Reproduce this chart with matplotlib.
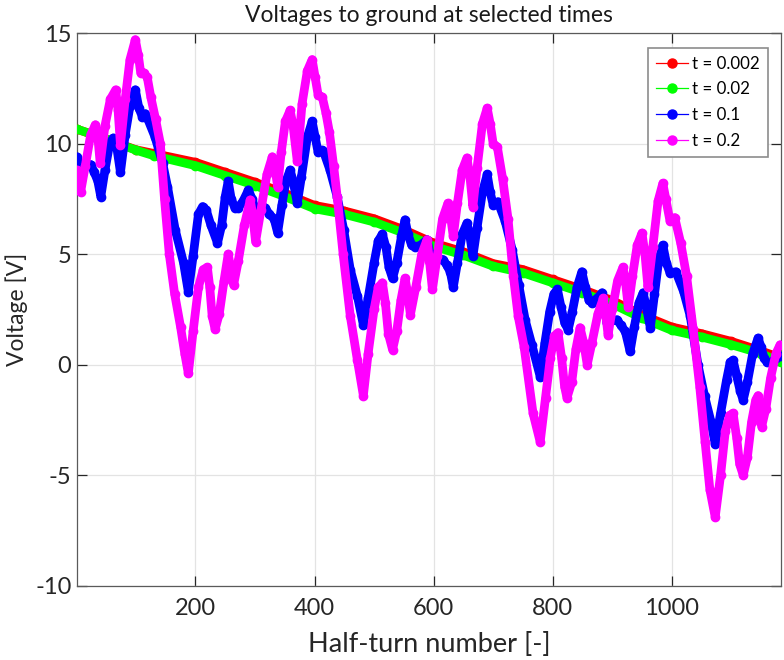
import numpy as np
import matplotlib
matplotlib.use("Agg")
import matplotlib.pyplot as plt
from matplotlib.lines import Line2D

plt.rcParams['font.family'] = ['Lato', 'DejaVu Sans']

# --- data (half-turn number, voltage) ---
lin_x = [1, 50, 100, 130, 200, 250, 300, 350, 400, 450, 500, 550, 600, 650,
         700, 750, 800, 850, 900, 950, 1000, 1050, 1100, 1150, 1183]
red_v = [10.65, 10.2, 9.72, 9.55, 9.15, 8.7, 8.25, 7.75, 7.2, 6.95, 6.6, 6.1,
         5.5, 5.1, 4.57, 4.3, 3.85, 3.4, 2.9, 2.25, 1.7, 1.4, 1.05, 0.62, 0.3]
green_v = [10.65, 10.2, 9.7, 9.45, 9.0, 8.55, 8.1, 7.6, 7.05, 6.8, 6.45, 5.95,
           5.35, 4.95, 4.45, 4.15, 3.7, 3.25, 2.75, 2.1, 1.55, 1.25, 0.9, 0.5, 0.1]

blue_x = [1, 7, 15, 24, 30, 36, 41, 48, 56, 62, 68, 74, 82, 90, 99, 105, 111,
          116, 120, 132, 145, 153, 166, 180, 188, 196, 205, 212, 218, 226, 237,
          244, 250, 255, 260, 266, 272, 280, 289, 295, 304, 310, 317, 324, 332,
          338, 345, 352, 359, 364, 371, 378, 388, 396, 401, 406, 412, 415, 426,
          438, 449, 460, 472, 482, 490, 500, 507, 514, 520, 525, 531, 538, 546,
          552, 557, 563, 569, 578, 589, 593, 598, 606, 616, 622, 628, 633, 640,
          648, 656, 661, 666, 673, 682, 690, 695, 700, 708, 720, 732, 743, 754,
          765, 779, 787, 795, 802, 808, 814, 820, 826, 833, 841, 849, 855, 861,
          866, 875, 883, 887, 891, 900, 908, 914, 922, 930, 937, 945, 952, 958,
          964, 971, 978, 985, 991, 997, 1007, 1020, 1031, 1044, 1055, 1066, 1073,
          1082, 1092, 1098, 1103, 1109, 1115, 1120, 1127, 1136, 1145, 1150, 1155,
          1160, 1167, 1175, 1182]
blue_v = [9.4, 8.8, 9.0, 9.05, 8.7, 8.3, 7.6, 8.8, 10.0, 10.25, 9.8, 8.7, 10.4,
          11.7, 12.43, 11.6, 11.2, 11.35, 11.1, 10.3, 9.1, 8.05, 6.1, 4.6, 3.3,
          4.9, 6.8, 7.15, 7.0, 6.3, 5.5, 6.3, 7.6, 8.3, 7.5, 7.1, 7.1, 7.4, 7.9,
          7.5, 6.7, 7.0, 7.1, 6.8, 6.6, 5.97, 7.2, 8.3, 8.8, 8.3, 7.3, 8.5, 10.3,
          11.0, 10.3, 9.6, 9.7, 9.65, 8.8, 7.6, 6.1, 4.3, 3.1, 1.8, 3.0, 4.6, 5.6,
          5.9, 5.3, 4.4, 3.9, 4.6, 5.8, 6.55, 5.9, 5.4, 5.33, 5.4, 5.65, 5.1, 4.6,
          4.8, 4.75, 4.5, 4.2, 3.5, 4.6, 5.9, 6.4, 5.8, 4.9, 6.2, 7.8, 8.6, 7.8,
          7.23, 7.37, 6.5, 5.2, 3.6, 2.0, 0.9, -0.54, 1.0, 2.4, 3.2, 3.4, 2.6,
          1.9, 1.58, 2.4, 3.5, 4.2, 3.5, 2.9, 2.8, 3.0, 3.25, 2.6, 1.9, 2.0, 2.03,
          1.8, 1.5, 0.6, 1.7, 2.8, 3.25, 2.5, 1.67, 3.2, 4.7, 5.4, 4.6, 4.15, 4.2,
          3.3, 2.2, 0.0, -1.4, -2.6, -3.6, -2.2, -0.7, 0.1, 0.2, -0.5, -1.2, -1.6,
          -0.8, 0.5, 1.2, 0.8, 0.3, 0.1, 0.1, 0.3, 0.4]

mag_x = [1, 7, 15, 24, 32, 36, 40, 48, 57, 66, 70, 74, 82, 90, 99, 104, 108,
         113, 119, 125, 133, 141, 148, 156, 165, 175, 182, 188, 196, 205, 213,
         220, 224, 228, 233, 240, 248, 255, 259, 264, 272, 282, 292, 296, 301,
         310, 320, 329, 333, 338, 344, 351, 359, 364, 371, 379, 388, 396, 401,
         406, 413, 419, 425, 432, 438, 448, 460, 472, 482, 490, 500, 507, 514,
         519, 524, 531, 538, 545, 552, 556, 561, 570, 580, 589, 593, 598, 606,
         615, 624, 628, 633, 640, 648, 656, 661, 666, 673, 682, 690, 695, 700,
         707, 716, 725, 734, 742, 752, 767, 779, 788, 796, 803, 809, 815, 820,
         824, 832, 839, 846, 852, 858, 866, 876, 885, 889, 893, 900, 909, 918,
         922, 927, 934, 942, 950, 955, 960, 968, 977, 985, 990, 997, 1005, 1015,
         1025, 1036, 1047, 1056, 1064, 1073, 1082, 1090, 1097, 1103, 1109, 1114,
         1120, 1127, 1134, 1141, 1145, 1148, 1151, 1158, 1166, 1175, 1182]
mag_v = [8.8, 7.8, 9.0, 10.4, 10.85, 10.3, 9.1, 10.8, 12.0, 12.43, 11.5, 9.95,
         12.0, 13.8, 14.7, 14.0, 13.2, 13.2, 13.0, 12.1, 11.1, 10.0, 7.5, 5.0,
         3.2, 1.7, 0.5, -0.4, 1.5, 3.5, 4.3, 4.4, 3.5, 2.2, 1.6, 2.3, 3.8, 5.0,
         4.4, 3.6, 4.7, 6.3, 7.45, 6.8, 5.56, 7.0, 8.6, 9.4, 9.0, 8.05, 9.6,
         11.0, 11.5, 10.8, 9.2, 11.8, 13.3, 13.8, 13.0, 12.2, 12.1, 11.4, 10.5,
         9.0, 7.6, 5.0, 2.2, 0.2, -1.4, 0.5, 2.5, 3.5, 3.7, 2.8, 1.4, 0.68, 1.5,
         2.9, 3.9, 3.3, 2.26, 3.5, 5.0, 5.65, 4.7, 3.4, 4.9, 6.6, 7.3, 6.8, 5.8,
         7.3, 8.8, 9.35, 8.5, 7.15, 8.9, 10.9, 11.6, 10.9, 10.0, 9.85, 8.4, 6.6,
         4.0, 2.2, 0.8, -2.2, -3.5, -1.5, 0.3, 1.3, 1.45, 0.3, -1.0, -1.5, -0.8,
         0.7, 1.67, 1.0, 0.0, 1.0, 2.3, 3.0, 2.3, 1.35, 2.5, 3.8, 4.4, 3.8, 2.6,
         4.0, 5.4, 5.95, 5.0, 3.5, 5.3, 7.4, 8.2, 7.5, 6.5, 6.65, 5.5, 4.0, 1.6,
         -1.0, -3.5, -5.65, -6.9, -5.0, -3.0, -2.3, -2.2, -3.3, -4.5, -5.0, -4.2,
         -2.6, -1.6, -1.4, -2.2, -2.8, -2.0, -0.6, 0.5, 0.9]

labels = ['t = 0.002', 't = 0.02', 't = 0.1', 't = 0.2']
colors = ['#ff0000', '#00ff00', '#0000ff', '#ff00ff']

fig = plt.figure(figsize=(7.84, 6.6), dpi=100)
ax = fig.add_axes([0.0982, 0.1126, 0.8976, 0.8374])

series = [(lin_x, red_v), (lin_x, green_v), (blue_x, blue_v), (mag_x, mag_v)]
for (xs, ys), c in zip(series, colors):
    # thick band of dots, like the dense marker line in the original
    ax.plot(xs, ys, '-', color=c, lw=6.3, solid_capstyle='round',
            solid_joinstyle='round', zorder=3)
    ax.plot(xs, ys, 'o', color=c, ms=6, zorder=3)

ax.set_xlim(1, 1183)
ax.set_ylim(-10, 15)
ax.set_xticks([200, 400, 600, 800, 1000])
ax.set_yticks([-10, -5, 0, 5, 10, 15])
ax.set_yticklabels(['-10', '-5', '0', '5', '10', '15'])
ax.grid(True, color='#e3e3e3', lw=0.9, zorder=0)
ax.tick_params(direction='in', length=7, width=0.9, colors='#262626',
               labelsize=17, top=True, right=True)
ax.tick_params(axis='y', pad=4)
ax.tick_params(axis='x', pad=9)
for s in ax.spines.values():
    s.set_color('#5a5a5a')
    s.set_linewidth(0.9)

ax.set_title('Voltages to ground at selected times', fontsize=16.5,
             color='#1a1a1a', pad=8)
ax.set_xlabel('Half-turn number [-]', fontsize=19.5, color='#262626', labelpad=9)
ax.set_ylabel('Voltage [V]', fontsize=16.5, color='#262626', labelpad=5)

handles = [Line2D([], [], color=c, lw=0.9, marker='o', ms=6.5) for c in colors]
leg = ax.legend(handles, labels, loc='upper right', fontsize=12.2,
                bbox_to_anchor=(0.9815, 0.973), borderaxespad=0,
                fancybox=False, framealpha=1, edgecolor='#8c8c8c',
                handlelength=1.9, handletextpad=0.25, labelspacing=0.58,
                borderpad=0.45)
leg.get_frame().set_linewidth(1.2)

fig.savefig('out.png', dpi=100)
